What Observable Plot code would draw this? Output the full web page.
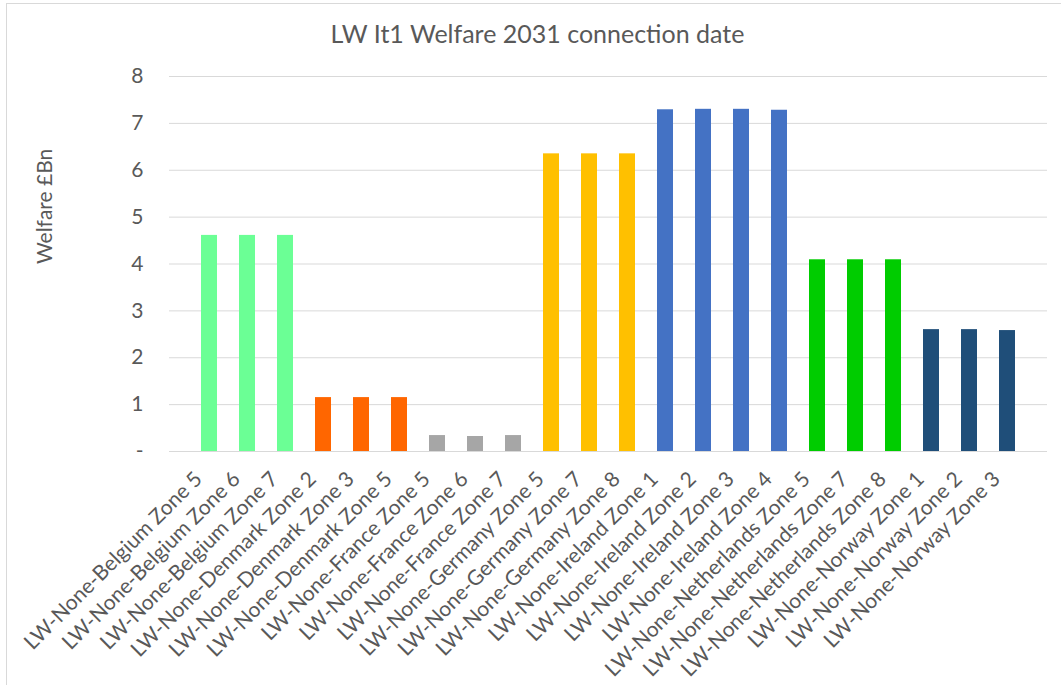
<!DOCTYPE html>
<html><head><meta charset="utf-8">
<script src="https://cdn.jsdelivr.net/npm/d3@7"></script>
<script src="https://cdn.jsdelivr.net/npm/@observablehq/plot@0.6"></script>
<style>
body{margin:0;background:#fff;overflow:hidden;font-family:Lato,sans-serif;}
#wrap{position:relative;width:1061px;height:685px;overflow:hidden;}
#frame{position:absolute;left:6px;top:3px;width:1100px;height:700px;border:1px solid #d9d9d9;box-sizing:border-box;pointer-events:none}
#title{height:60px;position:relative;}
#title span{position:absolute;left:0;width:1075px;text-align:center;top:21px;font-size:25px;line-height:25px;color:#595959;white-space:nowrap}
#chart svg{display:block}
</style></head>
<body><div id="wrap"><div id="frame"></div><div id="title"><span>LW It1 Welfare 2031 connection date</span></div><div id="chart"></div></div>
<script>
const categories = [
  "LW-None-Belgium Zone 5","LW-None-Belgium Zone 6","LW-None-Belgium Zone 7",
  "LW-None-Denmark Zone 2","LW-None-Denmark Zone 3","LW-None-Denmark Zone 5",
  "LW-None-France Zone 5","LW-None-France Zone 6","LW-None-France Zone 7",
  "LW-None-Germany Zone 5","LW-None-Germany Zone 7","LW-None-Germany Zone 8",
  "LW-None-Ireland Zone 1","LW-None-Ireland Zone 2","LW-None-Ireland Zone 3","LW-None-Ireland Zone 4",
  "LW-None-Netherlands Zone 5","LW-None-Netherlands Zone 7","LW-None-Netherlands Zone 8",
  "LW-None-Norway Zone 1","LW-None-Norway Zone 2","LW-None-Norway Zone 3"
];
const countries = [
  "Belgium","Belgium","Belgium",
  "Denmark","Denmark","Denmark",
  "France","France","France",
  "Germany","Germany","Germany",
  "Ireland","Ireland","Ireland","Ireland",
  "Netherlands","Netherlands","Netherlands",
  "Norway","Norway","Norway"
];
const values = [
  4.61, 4.61, 4.61,
  1.15, 1.15, 1.15,
  0.34, 0.32, 0.34,
  6.35, 6.35, 6.35,
  7.29, 7.30, 7.30, 7.28,
  4.09, 4.09, 4.09,
  2.60, 2.60, 2.58
];
const countryNames = ["Belgium","Denmark","France","Germany","Ireland","Netherlands","Norway"];
const countryColors = ["#6bff95","#ff6600","#a6a6a6","#ffc000","#4472c4","#00cc00","#1f4e79"];
const yTicks = [0,1,2,3,4,5,6,7,8];
const yLabel = "Welfare £Bn";

const data = categories.map((c, i) => ({category: c, country: countries[i], value: values[i]}));

const plot = Plot.plot({
  width: 1061, height: 625,
  marginTop: 16, marginBottom: 234, marginLeft: 169, marginRight: 14,
  style: {fontFamily: "Lato, sans-serif", fontSize: "21px", color: "#595959", background: "transparent", overflow: "visible"},
  x: {domain: categories, padding: 0.57, label: null},
  y: {domain: [0, 8], label: null},
  color: {domain: countryNames, range: countryColors},
  marks: [
    Plot.gridY(yTicks, {stroke: "#d9d9d9", strokeOpacity: 1, strokeWidth: 1}),
    Plot.axisY(yTicks, {tickSize: 0, tickPadding: 26, tickFormat: d => d === 0 ? "-" : String(d), label: null, fontSize: 21}),
    Plot.barY(data, {x: "category", y: "value", fill: "country"}),
    Plot.ruleY([0], {stroke: "#d9d9d9"}),
    Plot.axisX({tickSize: 0, tickRotate: -45, tickPadding: 24, dx: -11, label: null, fontSize: 21}),
    Plot.text([yLabel], {text: d => d, frameAnchor: "left", rotate: -90, dx: -124, fontSize: 21, fill: "#595959"})
  ]
});
document.getElementById("chart").appendChild(plot);
</script>
</body></html>
